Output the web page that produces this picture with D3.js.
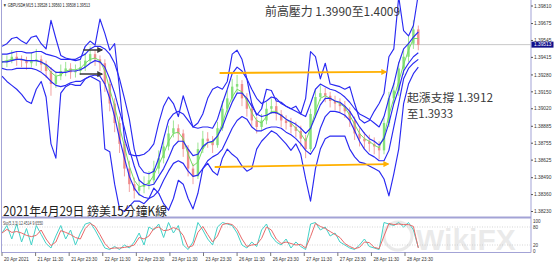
<!DOCTYPE html>
<html>
<head>
<meta charset="utf-8">
<script src="https://cdn.jsdelivr.net/npm/d3@7"></script>
<style>
  body { margin: 0; background: #fff; }
  svg { display: block; font-family: "Liberation Sans", Arial, sans-serif; }
  .cjk { font-family: "Noto Sans CJK TC", "Noto Sans CJK SC", sans-serif; }
</style>
</head>
<body>
<svg id="chart" width="554" height="265"></svg>
<script>
// GBPUSD M15, one sample every 7 bars
var closes = [1.3938,1.3939,1.3942,1.3940,1.3939,1.3937,1.3939,1.3940,1.3936,1.3931,
  1.3921,1.3927,1.3931,1.3933,1.3930,1.3931,1.3934,1.3939,1.3944,1.3940,
  1.3937,1.3921,1.3906,1.3891,1.3875,1.3856,1.3844,1.3839,1.3842,1.3844,
  1.3847,1.3856,1.3864,1.3873,1.3883,1.3887,1.3883,1.3871,1.3856,1.3850,
  1.3871,1.3879,1.3877,1.3874,1.3887,1.3902,1.3910,1.3919,1.3921,1.3910,
  1.3902,1.3893,1.3888,1.3893,1.3902,1.3904,1.3898,1.3893,1.3891,1.3888,
  1.3885,1.3879,1.3871,1.3898,1.3911,1.3914,1.3912,1.3908,1.3906,1.3904,
  1.3900,1.3893,1.3883,1.3879,1.3877,1.3875,1.3873,1.3870,1.3891,1.3910,
  1.3916,1.3933,1.3942,1.3952,1.3963,1.3951];

var highs = [1.3944,1.3943,1.3947,1.3946,1.3943,1.3942,1.3945,1.3948,1.3943,1.3939,
  1.3934,1.3931,1.3936,1.3938,1.3937,1.3936,1.3939,1.3945,1.3950,1.3947,
  1.3943,1.3940,1.3925,1.3910,1.3896,1.3880,1.3862,1.3849,1.3848,1.3850,
  1.3854,1.3862,1.3870,1.3879,1.3889,1.3893,1.3890,1.3886,1.3874,1.3860,
  1.3876,1.3885,1.3884,1.3881,1.3892,1.3908,1.3916,1.3925,1.3928,1.3924,
  1.3914,1.3906,1.3896,1.3898,1.3907,1.3910,1.3908,1.3901,1.3897,1.3895,
  1.3892,1.3889,1.3882,1.3902,1.3917,1.3920,1.3918,1.3915,1.3912,1.3910,
  1.3908,1.3903,1.3896,1.3887,1.3884,1.3882,1.3880,1.3877,1.3895,1.3915,
  1.3922,1.3938,1.3948,1.3958,1.3970,1.3966];

var lows = [1.3933,1.3934,1.3937,1.3935,1.3934,1.3932,1.3934,1.3935,1.3931,1.3926,
  1.3912,1.3918,1.3924,1.3927,1.3925,1.3926,1.3928,1.3931,1.3937,1.3935,
  1.3931,1.3915,1.3900,1.3884,1.3868,1.3850,1.3838,1.3833,1.3835,1.3837,
  1.3840,1.3844,1.3852,1.3860,1.3870,1.3880,1.3877,1.3865,1.3850,1.3844,
  1.3848,1.3868,1.3872,1.3868,1.3872,1.3885,1.3899,1.3907,1.3914,1.3904,
  1.3896,1.3888,1.3883,1.3885,1.3890,1.3898,1.3893,1.3888,1.3886,1.3883,
  1.3880,1.3873,1.3864,1.3869,1.3895,1.3908,1.3907,1.3903,1.3901,1.3899,
  1.3895,1.3888,1.3878,1.3873,1.3871,1.3869,1.3867,1.3863,1.3867,1.3888,
  1.3906,1.3912,1.3928,1.3938,1.3948,1.3947];

var greenLine = [1.3938,1.3939,1.3940,1.3940,1.3940,1.3939,1.3939,1.3939,1.3938,1.3935,
  1.3930,1.3927,1.3928,1.3931,1.3932,1.3932,1.3933,1.3937,1.3940,1.3941,
  1.3939,1.3931,1.3917,1.3904,1.3888,1.3873,1.3858,1.3847,1.3842,1.3843,
  1.3845,1.3851,1.3859,1.3867,1.3877,1.3883,1.3884,1.3879,1.3867,1.3858,
  1.3861,1.3871,1.3876,1.3876,1.3881,1.3891,1.3902,1.3911,1.3917,1.3915,
  1.3908,1.3899,1.3893,1.3891,1.3896,1.3900,1.3900,1.3897,1.3894,1.3891,
  1.3887,1.3883,1.3877,1.3887,1.3900,1.3910,1.3912,1.3910,1.3908,1.3906,
  1.3903,1.3897,1.3890,1.3883,1.3879,1.3877,1.3874,1.3872,1.3881,1.3897,
  1.3910,1.3923,1.3936,1.3947,1.3956,1.3956];

var midBand = [1.3938,1.3938,1.3939,1.3940,1.3940,1.3939,1.3939,1.3939,1.3938,1.3936,
  1.3933,1.3930,1.3930,1.3930,1.3931,1.3931,1.3932,1.3934,1.3937,1.3939,
  1.3938,1.3934,1.3925,1.3914,1.3900,1.3887,1.3871,1.3858,1.3847,1.3844,
  1.3843,1.3844,1.3850,1.3856,1.3864,1.3873,1.3877,1.3877,1.3871,1.3866,
  1.3867,1.3873,1.3876,1.3877,1.3881,1.3888,1.3898,1.3907,1.3914,1.3914,
  1.3910,1.3904,1.3898,1.3896,1.3897,1.3899,1.3899,1.3897,1.3894,1.3892,
  1.3890,1.3887,1.3883,1.3887,1.3896,1.3905,1.3910,1.3910,1.3908,1.3907,
  1.3904,1.3900,1.3894,1.3888,1.3883,1.3879,1.3877,1.3874,1.3879,1.3891,
  1.3906,1.3917,1.3931,1.3937,1.3942,1.3945];

var upperInner = [1.3944,1.3944,1.3945,1.3946,1.3946,1.3945,1.3945,1.3946,1.3946,1.3944,
  1.3943,1.3942,1.3940,1.3940,1.3940,1.3940,1.3942,1.3944,1.3948,1.3950,
  1.3950,1.3948,1.3944,1.3937,1.3925,1.3910,1.3894,1.3871,1.3858,1.3853,
  1.3852,1.3854,1.3864,1.3879,1.3893,1.3898,1.3900,1.3898,1.3893,1.3888,
  1.3887,1.3888,1.3888,1.3887,1.3894,1.3906,1.3917,1.3929,1.3934,1.3931,
  1.3925,1.3917,1.3910,1.3906,1.3908,1.3911,1.3910,1.3906,1.3904,1.3902,
  1.3900,1.3898,1.3896,1.3906,1.3917,1.3921,1.3919,1.3917,1.3916,1.3914,
  1.3911,1.3907,1.3902,1.3898,1.3896,1.3894,1.3891,1.3888,1.3896,1.3910,
  1.3921,1.3937,1.3948,1.3952,1.3957,1.3961];

var lowerInner = [1.3933,1.3932,1.3932,1.3933,1.3933,1.3933,1.3933,1.3932,1.3930,1.3927,
  1.3923,1.3920,1.3919,1.3920,1.3922,1.3923,1.3923,1.3925,1.3927,1.3928,
  1.3927,1.3921,1.3910,1.3896,1.3879,1.3864,1.3850,1.3841,1.3836,1.3834,
  1.3833,1.3835,1.3839,1.3847,1.3854,1.3860,1.3862,1.3860,1.3854,1.3850,
  1.3851,1.3856,1.3862,1.3865,1.3867,1.3871,1.3879,1.3887,1.3893,1.3896,
  1.3894,1.3888,1.3885,1.3885,1.3887,1.3888,1.3888,1.3887,1.3884,1.3882,
  1.3879,1.3875,1.3870,1.3867,1.3873,1.3887,1.3896,1.3900,1.3900,1.3899,
  1.3897,1.3893,1.3885,1.3877,1.3871,1.3867,1.3865,1.3862,1.3862,1.3870,
  1.3888,1.3906,1.3925,1.3933,1.3937,1.3940];

var upperOuter = [1.3950,1.3952,1.3956,1.3957,1.3954,1.3952,1.3957,1.3958,1.3952,1.3948,
  1.3970,1.3956,1.3943,1.3941,1.3940,1.3939,1.3940,1.3950,1.3954,1.3951,
  1.3971,1.3960,1.3947,1.3952,1.3917,1.3879,1.3867,1.3866,1.3866,1.3867,
  1.3870,1.3875,1.3891,1.3904,1.3911,1.3906,1.3896,1.3912,1.3900,1.3888,
  1.3891,1.3898,1.3910,1.3917,1.3919,1.3917,1.3923,1.3944,1.3947,1.3940,
  1.3925,1.3906,1.3897,1.3902,1.3917,1.3916,1.3908,1.3907,1.3904,1.3902,
  1.3904,1.3898,1.3910,1.3946,1.3942,1.3925,1.3937,1.3921,1.3920,1.3919,
  1.3917,1.3919,1.3906,1.3894,1.3891,1.3893,1.3900,1.3906,1.3914,1.3942,
  1.3948,1.3988,1.3962,1.3958,1.3966,1.3990];

var lowerOuter = [1.3927,1.3923,1.3920,1.3917,1.3913,1.3908,1.3906,1.3917,1.3923,1.3911,
  1.3875,1.3864,1.3914,1.3919,1.3921,1.3920,1.3920,1.3925,1.3927,1.3925,
  1.3923,1.3871,1.3869,1.3844,1.3825,1.3823,1.3827,1.3831,1.3831,1.3829,
  1.3833,1.3841,1.3837,1.3829,1.3824,1.3833,1.3847,1.3844,1.3833,1.3825,
  1.3837,1.3856,1.3860,1.3854,1.3851,1.3864,1.3871,1.3867,1.3864,1.3858,
  1.3854,1.3856,1.3871,1.3877,1.3881,1.3885,1.3883,1.3879,1.3875,1.3870,
  1.3875,1.3867,1.3848,1.3831,1.3856,1.3871,1.3879,1.3881,1.3881,1.3881,
  1.3881,1.3871,1.3865,1.3861,1.3860,1.3858,1.3856,1.3854,1.3848,1.3835,
  1.3852,1.3871,1.3906,1.3921,1.3929,1.3934];

var stochMain = [60,85,40,90,30,75,20,85,55,25, 10,50,85,40,70,20,60,90,95,70,
  40,10,5,15,5,20,10,30,60,20, 80,70,90,45,95,60,85,20,5,30,
  95,70,40,20,80,95,90,85,60,20, 10,30,15,70,90,50,30,20,40,10,
  30,15,5,90,95,70,80,50,60,30, 20,10,5,20,40,15,10,5,95,90,
  85,95,80,95,70,12];
var stochSignal = [60,72,62,65,60,52,48,52,70,40, 18,30,68,62,55,45,40,75,92,82,
  55,25,8,10,10,12,15,20,45,40, 50,75,80,68,70,78,72,52,12,18,
  62,82,55,30,50,88,92,88,72,40, 15,20,22,42,80,70,40,25,30,25,
  20,22,10,48,92,82,75,65,55,45, 25,15,8,12,30,28,12,8,50,92,
  88,90,88,88,82,10];

var priceTicks = [1.39810,1.39675,1.39545,1.39415,1.39280,1.39150,1.39020,1.38885,1.38755,1.38625,1.38490,1.38360,1.38230];
var timeLabels = ["20 Apr 2021","21 Apr 11:30","21 Apr 23:30","22 Apr 11:30","22 Apr 23:30","23 Apr 11:30","23 Apr 23:30",
  "26 Apr 11:30","26 Apr 23:30","27 Apr 11:30","27 Apr 23:30","28 Apr 11:30","28 Apr 23:30"];
var timeTickBars = [0,48,96,144,192,240,288,336,384,432,480,528,576];
var stochLevels = [80, 20];
var stochTicks = [100, 80, 20, 0];
var lastPrice = 1.39513;

// annotation lines: [bar0, price0, bar1, price1]
var rangeLines = [[311, 1.39295, 549, 1.39303], [304, 1.38572, 552, 1.38595]];
var markerArrows = [[116, 1.39472, 143, 1.39472], [111, 1.39287, 143, 1.39287]];

var barStep = 7;
var svg = d3.select("#chart");

var x = d3.scaleLinear().domain([0, 600]).range([2, 421.8]);
var y = d3.scaleLinear().domain([1.38230, 1.39810]).range([211.5, 6]);
var ys = d3.scaleLinear().domain([0, 100]).range([251, 221]);

var defs = svg.append("defs");
defs.append("clipPath").attr("id", "mainClip")
  .append("rect").attr("x", 2).attr("y", 0).attr("width", 529).attr("height", 216.5);
defs.append("clipPath").attr("id", "subClip")
  .append("rect").attr("x", 2).attr("y", 219).attr("width", 529).attr("height", 33);

function arrowMarker(id, color, size) {
  defs.append("marker").attr("id", id)
    .attr("viewBox", "0 0 10 10").attr("refX", 8).attr("refY", 5)
    .attr("markerWidth", size).attr("markerHeight", size)
    .attr("markerUnits", "userSpaceOnUse").attr("orient", "auto")
    .append("path").attr("d", "M0,0L10,5L0,10z").attr("fill", color);
}
arrowMarker("arrOrange", "#ffb000", 6);
arrowMarker("arrDark", "#3a3a3a", 6);

// watermark
var wm = svg.append("g").attr("opacity", 0.08);
wm.append("circle").attr("cx", 398).attr("cy", 236).attr("r", 14)
  .attr("fill", "none").attr("stroke", "#000").attr("stroke-width", 3);
wm.append("text").attr("x", 416).attr("y", 250).attr("font-size", 30)
  .attr("font-weight", "bold").attr("fill", "#000").text("WikiFX");

// frame
var frameColor = "#a3a3d6";
svg.append("line").attr("x1", 1.5).attr("x2", 1.5).attr("y1", 0).attr("y2", 252.5).attr("stroke", frameColor);
svg.append("line").attr("x1", 531).attr("x2", 531).attr("y1", 0).attr("y2", 252.5).attr("stroke", frameColor);
svg.append("line").attr("x1", 1.5).attr("x2", 531).attr("y1", 217.5).attr("y2", 217.5).attr("stroke", frameColor).attr("stroke-width", 2);
svg.append("line").attr("x1", 1.5).attr("x2", 531).attr("y1", 252.5).attr("y2", 252.5).attr("stroke", frameColor);

var main = svg.append("g").attr("clip-path", "url(#mainClip)");

// bid line
main.append("line").attr("x1", 2).attr("x2", 531)
  .attr("y1", y(lastPrice)).attr("y2", y(lastPrice))
  .attr("stroke", "#c8c8c8").attr("stroke-width", 1);

// candles
var candles = closes.map(function(c, i) {
  return { bar: i * barStep, open: i ? closes[i - 1] : c, close: c, high: highs[i], low: lows[i] };
});
function candleColor(d) { return d.close >= d.open ? "#86e07c" : "#ef8c8c"; }
var cg = main.selectAll("g.candle").data(candles).enter().append("g").attr("class", "candle");
cg.append("line")
  .attr("x1", function(d) { return x(d.bar); }).attr("x2", function(d) { return x(d.bar); })
  .attr("y1", function(d) { return y(d.high); }).attr("y2", function(d) { return y(d.low); })
  .attr("stroke", candleColor).attr("stroke-width", 1).attr("opacity", 0.8);
cg.append("rect")
  .attr("x", function(d) { return x(d.bar) - 1.2; })
  .attr("width", 2.4)
  .attr("y", function(d) { return y(Math.max(d.open, d.close)); })
  .attr("height", function(d) { return Math.max(1, Math.abs(y(d.open) - y(d.close))); })
  .attr("fill", candleColor);

function series(vals) {
  return vals.map(function(v, i) { return { bar: i * barStep, v: v }; });
}
var priceLine = d3.line().x(function(d) { return x(d.bar); }).y(function(d) { return y(d.v); });

main.append("path").datum(series(greenLine)).attr("d", priceLine)
  .attr("fill", "none").attr("stroke", "#74dc62").attr("stroke-width", 1);

[upperOuter, upperInner, midBand, lowerInner, lowerOuter].forEach(function(arr) {
  main.append("path").datum(series(arr)).attr("d", priceLine)
    .attr("fill", "none").attr("stroke", "#2a2af2").attr("stroke-width", 1.15)
    .attr("stroke-linejoin", "round");
});

// support/resistance range lines
main.selectAll("line.range").data(rangeLines).enter().append("line")
  .attr("x1", function(d) { return x(d[0]); }).attr("y1", function(d) { return y(d[1]); })
  .attr("x2", function(d) { return x(d[2]); }).attr("y2", function(d) { return y(d[3]); })
  .attr("stroke", "#ffb000").attr("stroke-width", 1.8).attr("marker-end", "url(#arrOrange)");

main.selectAll("line.mark").data(markerArrows).enter().append("line")
  .attr("x1", function(d) { return x(d[0]); }).attr("y1", function(d) { return y(d[1]); })
  .attr("x2", function(d) { return x(d[2]); }).attr("y2", function(d) { return y(d[3]); })
  .attr("stroke", "#3a3a3a").attr("stroke-width", 1.6).attr("marker-end", "url(#arrDark)");

// price axis
var axisG = svg.append("g");
priceTicks.forEach(function(p) {
  axisG.append("line").attr("x1", 531).attr("x2", 533).attr("y1", y(p)).attr("y2", y(p)).attr("stroke", "#555");
  axisG.append("text").attr("x", 534).attr("y", y(p) + 1.7).attr("font-size", 4.8)
    .attr("fill", "#333").text(d3.format(".5f")(p));
});
axisG.append("rect").attr("x", 531.5).attr("y", y(lastPrice) - 3).attr("width", 22).attr("height", 6)
  .attr("fill", "#10108a");
axisG.append("text").attr("x", 534).attr("y", y(lastPrice) + 1.7).attr("font-size", 4.8)
  .attr("fill", "#fff").text(d3.format(".5f")(lastPrice));

// header
svg.append("text").attr("x", 3).attr("y", 7).attr("font-size", 4.8).attr("fill", "#222")
  .attr("textLength", 87).attr("lengthAdjust", "spacingAndGlyphs")
  .text("\u25BC GBPUSD#,M15  1.39528 1.39560 1.39508 1.39513");

// stochastic panel
var sub = svg.append("g");
stochLevels.forEach(function(l) {
  sub.append("line").attr("x1", 2).attr("x2", 531).attr("y1", ys(l)).attr("y2", ys(l))
    .attr("stroke", "#c4c4c4").attr("stroke-width", 0.7).attr("stroke-dasharray", "1,1.5");
});
var stochLine = d3.line().x(function(d) { return x(d.bar); }).y(function(d) { return ys(d.v); });
var subPlot = sub.append("g").attr("clip-path", "url(#subClip)");
subPlot.append("path").datum(series(stochMain)).attr("d", stochLine)
  .attr("fill", "none").attr("stroke", "#43d2c8").attr("stroke-width", 1);
subPlot.append("path").datum(series(stochSignal)).attr("d", stochLine)
  .attr("fill", "none").attr("stroke", "#e86a6a").attr("stroke-width", 1);
stochTicks.forEach(function(t) {
  sub.append("text").attr("x", 533).attr("y", ys(t) + 1.6).attr("font-size", 4.6)
    .attr("fill", "#333").text(t);
});
sub.append("text").attr("x", 3).attr("y", 224.5).attr("font-size", 4.6).attr("fill", "#444")
  .attr("textLength", 40).attr("lengthAdjust", "spacingAndGlyphs")
  .text("Sto(5,3,3) 12.4514 9.6550");

// time axis
timeTickBars.forEach(function(b, i) {
  svg.append("line").attr("x1", x(b)).attr("x2", x(b)).attr("y1", 252.5).attr("y2", 256)
    .attr("stroke", "#555").attr("stroke-width", 0.8);
  svg.append("text").attr("x", x(b) + 2).attr("y", 261).attr("font-size", 4.6)
    .attr("fill", "#333").text(timeLabels[i]);
});

// annotations
svg.append("text").attr("class", "cjk").attr("x", 265).attr("y", 16).attr("font-size", 12)
  .attr("fill", "#3a3a3a").attr("textLength", 135).attr("lengthAdjust", "spacingAndGlyphs")
  .text("前高壓力 1.3990至1.4009");
svg.append("text").attr("class", "cjk").attr("x", 407).attr("y", 101.5).attr("font-size", 11.5)
  .attr("fill", "#3a3a3a").attr("textLength", 86).attr("lengthAdjust", "spacingAndGlyphs")
  .text("起漲支撐 1.3912");
svg.append("text").attr("class", "cjk").attr("x", 407).attr("y", 117.5).attr("font-size", 11.5)
  .attr("fill", "#3a3a3a").attr("textLength", 46).attr("lengthAdjust", "spacingAndGlyphs")
  .text("至1.3933");
svg.append("text").attr("class", "cjk").attr("x", 3).attr("y", 216).attr("font-size", 12.5)
  .attr("fill", "#222").attr("textLength", 164).attr("lengthAdjust", "spacingAndGlyphs")
  .text("2021年4月29日 鎊美15分鐘K線");
</script>
</body>
</html>
